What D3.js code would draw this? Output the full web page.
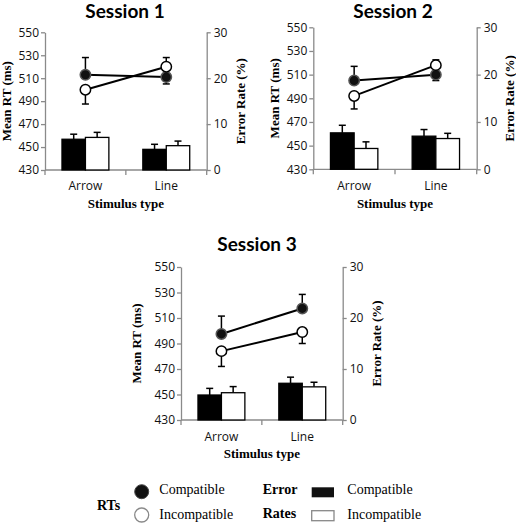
<!DOCTYPE html>
<html><head><meta charset="utf-8">
<script src="https://cdn.jsdelivr.net/npm/d3@7"></script>
<style>
html,body{margin:0;padding:0;background:#fff;}
svg{display:block;}
</style></head>
<body>
<svg id="chart" width="516" height="527"></svg>
<script>
// ---------- data ----------
const sessions = ["Session 1", "Session 2", "Session 3"];
const categories = ["Arrow", "Line"];
const rtTicks = [430, 450, 470, 490, 510, 530, 550];
const errTicks = [0, 10, 20, 30];
// mean RT (ms), per session [Arrow, Line]
const rtCompatible   = [[513, 511], [505, 510], [497.5, 517.5]];
const rtIncompatible = [[500, 520], [492, 518], [484, 499]];
const rtCompatibleSE   = [[15, 6], [12, 5], [14, 11]];
const rtIncompatibleSE = [[12.5, 8], [11, 4.5], [12, 9]];
// error rates (%)
const erCompatible   = [[6.7, 4.5], [7.7, 7.0], [4.9, 7.2]];
const erIncompatible = [[7.1, 5.3], [4.4, 6.5], [5.35, 6.5]];
const erCompatibleSE   = [[1.1, 1.1], [1.6, 1.4], [1.3, 1.2]];
const erIncompatibleSE = [[1.1, 1.0], [1.4, 1.1], [1.2, 0.9]];

// ---------- layout ----------
const panels = [
  {left: 45, right: 206.7, top: 32.3, bottom: 170, titleX: 125, titleY: 18, yLabX: 8, y2LabX: 242, xTitleY: 208, tickLabY: 190},
  {left: 313.3, right: 476.7, top: 27.3, bottom: 169.3, titleX: 393, titleY: 18, yLabX: 276, y2LabX: 511, xTitleY: 208, tickLabY: 190},
  {left: 181, right: 342.7, top: 267, bottom: 420, titleX: 257, titleY: 251, yLabX: 138, y2LabX: 378, xTitleY: 458, tickLabY: 441}
];

const svg = d3.select("#chart");
svg.append("rect").attr("width", 516).attr("height", 527).attr("fill", "#fff");
const axisColor = "#8a8a8a";
const sans = "'Open Sans', 'Noto Sans', sans-serif";
const serif = "'Liberation Serif', 'DejaVu Serif', serif";

sessions.forEach((name, si) => {
  const p = panels[si];
  const g = svg.append("g");
  const x = d3.scaleBand().domain(categories).range([p.left, p.right]).padding(0);
  const y = d3.scaleLinear().domain([430, 550]).range([p.bottom, p.top]);
  const y2 = d3.scaleLinear().domain([0, 30]).range([p.bottom, p.top]);
  const bw = x.bandwidth();
  const barW = bw * 0.29;
  const cx = c => x(c) + bw / 2;

  // title
  g.append("text").attr("x", p.titleX).attr("y", p.titleY).attr("text-anchor", "middle")
    .style("font-family", "Lato, 'Open Sans', sans-serif").style("font-weight", "bold").style("font-size", "19px")
    .text(name);

  // left axis
  const ax = g.append("g").attr("transform", `translate(${p.left},0)`)
    .call(d3.axisLeft(y).tickValues(rtTicks).tickSize(4).tickSizeOuter(0).tickPadding(2));
  // right axis
  const ax2 = g.append("g").attr("transform", `translate(${p.right},0)`)
    .call(d3.axisRight(y2).tickValues(errTicks).tickSize(4).tickSizeOuter(0).tickPadding(3));
  [ax, ax2].forEach(a => {
    a.select(".domain").attr("stroke", axisColor).attr("stroke-width", 1.3);
    a.selectAll(".tick line").attr("stroke", axisColor).attr("stroke-width", 1.3);
    a.selectAll(".tick text").style("font-family", sans).style("font-size", "12px").attr("fill", "#111");
  });

  // x baseline + ticks at band boundaries
  g.append("line").attr("x1", p.left).attr("x2", p.right).attr("y1", p.bottom).attr("y2", p.bottom)
    .attr("stroke", axisColor).attr("stroke-width", 1.3);
  const bounds = categories.map(c => x(c)).concat([p.right]);
  g.selectAll(".xt").data(bounds).enter().append("line")
    .attr("x1", d => d).attr("x2", d => d).attr("y1", p.bottom).attr("y2", p.bottom + 5)
    .attr("stroke", axisColor).attr("stroke-width", 1.3);
  g.selectAll(".xl").data(categories).enter().append("text")
    .attr("x", d => cx(d)).attr("y", p.tickLabY).attr("text-anchor", "middle")
    .style("font-family", sans).style("font-size", "12px").attr("fill", "#111").text(d => d);

  // axis titles
  g.append("text").attr("transform", `translate(${p.yLabX},${(p.top + p.bottom) / 2}) rotate(-90)`)
    .attr("text-anchor", "middle").attr("dominant-baseline", "middle")
    .style("font-family", serif).style("font-weight", "bold").style("font-size", "13px").text("Mean RT (ms)");
  g.append("text").attr("transform", `translate(${p.y2LabX},${(p.top + p.bottom) / 2}) rotate(-90)`)
    .attr("text-anchor", "middle").attr("dominant-baseline", "middle")
    .style("font-family", serif).style("font-weight", "bold").style("font-size", "13px").text("Error Rate (%)");
  g.append("text").attr("x", (p.left + p.right) / 2).attr("y", p.xTitleY).attr("text-anchor", "middle")
    .style("font-family", serif).style("font-weight", "bold").style("font-size", "13px").text("Stimulus type");

  // bars (error rates)
  const barData = [];
  categories.forEach((c, ci) => {
    barData.push({c, v: erCompatible[si][ci], se: erCompatibleSE[si][ci], xs: cx(c) - barW, fill: "#000"});
    barData.push({c, v: erIncompatible[si][ci], se: erIncompatibleSE[si][ci], xs: cx(c), fill: "#fff"});
  });
  // bar error bars (up)
  barData.forEach(d => {
    const mx = d.xs + barW / 2, yt = y2(d.v), yc = y2(d.v + d.se);
    g.append("line").attr("x1", mx).attr("x2", mx).attr("y1", yt).attr("y2", yc).attr("stroke", "#000").attr("stroke-width", 1.5);
    g.append("line").attr("x1", mx - 3.5).attr("x2", mx + 3.5).attr("y1", yc).attr("y2", yc).attr("stroke", "#000").attr("stroke-width", 1.5);
  });
  g.selectAll(".bar").data(barData).enter().append("rect")
    .attr("x", d => d.xs).attr("width", barW)
    .attr("y", d => y2(d.v)).attr("height", d => p.bottom - y2(d.v))
    .attr("fill", d => d.fill).attr("stroke", "#000").attr("stroke-width", 1.3);

  // RT lines & points
  const series = [
    {vals: rtCompatible[si], se: rtCompatibleSE[si], other: rtIncompatible[si], fill: "#111", stroke: "#555"},
    {vals: rtIncompatible[si], se: rtIncompatibleSE[si], other: rtCompatible[si], fill: "#fff", stroke: "#000"}
  ];
  const line = d3.line().x((d, i) => cx(categories[i])).y(d => y(d));
  series.forEach(s => {
    s.vals.forEach((v, i) => {
      const dir = v >= s.other[i] ? 1 : -1;
      const mx = cx(categories[i]), ye = y(v + dir * s.se[i]);
      g.append("line").attr("x1", mx).attr("x2", mx).attr("y1", y(v)).attr("y2", ye).attr("stroke", "#000").attr("stroke-width", 1.5);
      g.append("line").attr("x1", mx - 3.5).attr("x2", mx + 3.5).attr("y1", ye).attr("y2", ye).attr("stroke", "#000").attr("stroke-width", 1.5);
    });
  });
  series.forEach(s => {
    g.append("path").datum(s.vals).attr("d", line).attr("fill", "none").attr("stroke", "#000").attr("stroke-width", 2);
  });
  series.forEach(s => {
    g.selectAll(null).data(s.vals).enter().append("circle")
      .attr("cx", (d, i) => cx(categories[i])).attr("cy", d => y(d)).attr("r", 5.2)
      .attr("fill", s.fill).attr("stroke", s.stroke).attr("stroke-width", 1.5);
  });
});

// ---------- legend ----------
const lg = svg.append("g");
const lfont = (t, bold) => t.style("font-family", serif).style("font-size", "14px").style("font-weight", bold ? "bold" : "normal");
lfont(lg.append("text").attr("x", 97).attr("y", 507).attr("dominant-baseline", "middle").text("RTs"), true);
lg.append("circle").attr("cx", 141.7).attr("cy", 491.7).attr("r", 7).attr("fill", "#111").attr("stroke", "#444").attr("stroke-width", 1);
lg.append("circle").attr("cx", 141.7).attr("cy", 515).attr("r", 7).attr("fill", "#fff").attr("stroke", "#888").attr("stroke-width", 1.3);
lfont(lg.append("text").attr("x", 159.3).attr("y", 491).attr("dominant-baseline", "middle").text("Compatible"));
lfont(lg.append("text").attr("x", 159.3).attr("y", 516).attr("dominant-baseline", "middle").text("Incompatible"));
lfont(lg.append("text").attr("x", 262.7).attr("y", 491).attr("dominant-baseline", "middle").text("Error"), true);
lfont(lg.append("text").attr("x", 262.7).attr("y", 515).attr("dominant-baseline", "middle").text("Rates"), true);
lg.append("rect").attr("x", 311.7).attr("y", 487.3).attr("width", 22.3).attr("height", 10).attr("fill", "#111");
lg.append("rect").attr("x", 311.7).attr("y", 510.7).attr("width", 22.3).attr("height", 10).attr("fill", "#fff").attr("stroke", "#888").attr("stroke-width", 1.3);
lfont(lg.append("text").attr("x", 347.3).attr("y", 491).attr("dominant-baseline", "middle").text("Compatible"));
lfont(lg.append("text").attr("x", 347.3).attr("y", 516).attr("dominant-baseline", "middle").text("Incompatible"));
</script>
</body></html>
